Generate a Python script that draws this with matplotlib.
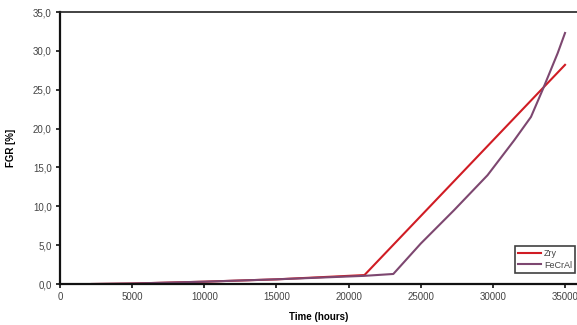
import matplotlib
matplotlib.use("Agg")
import matplotlib.pyplot as plt

plt.rcParams['font.family'] = ['Liberation Sans', 'DejaVu Sans']

# Fission gas release vs. irradiation time
zry_time = [2200, 5000, 10000, 15000, 21100, 35000]
zry_fgr = [0.0, 0.06, 0.3, 0.6, 1.15, 28.2]

fecral_time = [2200, 5000, 10000, 15000, 21100, 23100, 25000, 27310, 29630,
               31480, 32640, 33450, 34490, 35000]
fecral_fgr = [0.0, 0.06, 0.3, 0.6, 1.05, 1.29, 5.2, 9.5, 14.0,
              18.5, 21.5, 25.0, 29.7, 32.3]

x_ticks = [0, 5000, 10000, 15000, 20000, 25000, 30000, 35000]
y_ticks = [0, 5, 10, 15, 20, 25, 30, 35]
y_tick_labels = ["0,0", "5,0", "10,0", "15,0", "20,0", "25,0", "30,0", "35,0"]

fig = plt.figure(figsize=(5.77, 3.25), dpi=100)
ax = fig.add_axes([60 / 577, 1 - 284 / 325, 1 - 60 / 577, (284 - 12) / 325])

ax.plot(zry_time, zry_fgr, color="#d01c24", lw=1.5, label="Zry")
ax.plot(fecral_time, fecral_fgr, color="#7d4770", lw=1.5, label="FeCrAl")

ax.set_xlim(0, 35830)
ax.set_ylim(0, 35)
ax.set_xticks(x_ticks)
ax.set_xticklabels([str(t) for t in x_ticks])
ax.set_yticks(y_ticks)
ax.set_yticklabels(y_tick_labels)

for side in ("left", "bottom"):
    ax.spines[side].set_linewidth(1.6)
    ax.spines[side].set_color("#111111")
ax.spines["top"].set_linewidth(1.2)
ax.spines["top"].set_color("#222222")
ax.spines["right"].set_visible(False)

ax.tick_params(axis="both", direction="out", length=3, width=1.2,
               labelsize=7, labelcolor="#444444", color="#111111", pad=3)

ax.set_xlabel("Time (hours)", fontsize=7, fontweight="bold", labelpad=7)
ax.set_ylabel("FGR [%]", fontsize=7, fontweight="bold", labelpad=12)

leg = ax.legend(loc="lower right", bbox_to_anchor=(1.0, 0.035), fontsize=6.5,
                frameon=True, fancybox=False, handlelength=2.6,
                handletextpad=0.3, borderpad=0.35, labelspacing=0.3,
                borderaxespad=0.2)
leg.get_frame().set_edgecolor("#111111")
leg.get_frame().set_linewidth(1.2)
for t in leg.get_texts():
    t.set_color("#444444")

fig.savefig("out.png", dpi=100)
